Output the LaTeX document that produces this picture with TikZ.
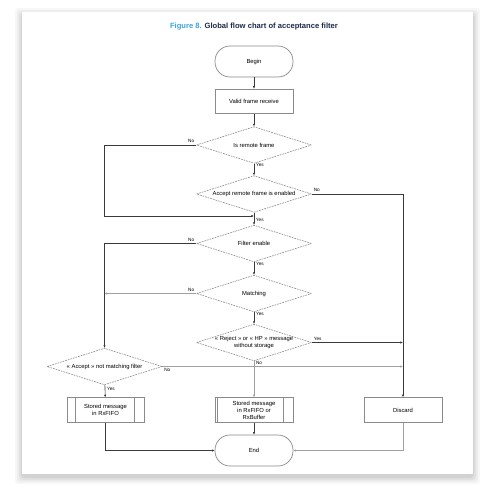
\documentclass[tikz,border=0pt]{standalone}
\usepackage{fontspec}
\setmainfont{Liberation Sans}
\usetikzlibrary{shapes.geometric, arrows.meta}

\definecolor{figblue}{HTML}{3BA3E0}
\definecolor{fignavy}{HTML}{1B2A4A}
\definecolor{edgegray}{HTML}{8A8A8A}
\definecolor{linedark}{HTML}{3A3A3A}
\definecolor{linelight}{HTML}{A0A0A0}

\begin{document}
\begin{tikzpicture}[
    x=0.03cm, y=-0.03cm,
    % Define node styles
    terminal/.style={draw=edgegray, line width=0.6pt, rectangle, rounded corners=0.45cm, minimum width=2.34cm, minimum height=0.93cm, font=\fontsize{5}{6}\selectfont},
    process/.style={draw=edgegray, line width=0.6pt, rectangle, minimum width=2.34cm, minimum height=0.74cm, align=center, inner sep=1pt, font=\fontsize{5}{6}\selectfont},
    decision/.style={draw=edgegray, line width=0.5pt, dash pattern=on 1.5pt off 0.8pt, diamond, aspect=3.2, inner sep=0pt, minimum width=3.45cm, minimum height=1.1cm, align=center, font=\fontsize{5}{6}\selectfont},
    % Define connector styles
    flow/.style={draw=linedark, line width=0.5pt, -{Latex[length=2.2pt, width=2pt]}},
    flowlight/.style={flow, draw=linelight},
    lbl/.style={font=\fontsize{4}{5}\selectfont, inner sep=1.5pt}
]

% Canvas, card and its shadow
\useasboundingbox (0,0) rectangle (490,497);
\fill[white] (0,0) rectangle (490,497);
\foreach \s/\o in {7/0.03, 5/0.04, 3/0.05, 1/0.06}
    \fill[black, opacity=\o, rounded corners=3pt] (22-\s,12-\s+3) rectangle (473+\s,474+\s+3);
\fill[white] (22,12) rectangle (473,474);

% Title
\node[font=\bfseries\fontsize{6.5}{8}\selectfont] (title) at (254,27)
    {\textcolor{figblue}{Figure 8.} \textcolor{fignavy}{Global flow chart of acceptance filter}};

% Main column
\node[terminal] (begin) at (254,61.5) {Begin};
\node[process] (valid) at (254,101.5) {Valid frame receive};
\node[decision] (remote) at (254,145) {Is remote frame};
\node[decision] (accrem) at (254,194) {Accept remote frame is enabled};
\coordinate (merge) at (254,216);
\node[decision] (filter) at (254,243.5) {Filter enable};
\node[decision] (match) at (254,293.5) {Matching};
\node[decision, inner xsep=-7pt, inner ysep=-1pt] (reject) at (254,342.5) {« Reject » or « HP » message\\without storage};

% Left branch
\node[decision] (accnm) at (104.5,366.5) {« Accept » not matching filter};
\node[process, minimum width=2.31cm] (storefifo) at (105.5,410) {Stored message\\in RxFIFO};

% Bottom row
\node[process, inner sep=0pt] (storebuf) at (254,410) {Stored message\\in RxFIFO or\\RxBuffer};
\node[process] (discard) at (403,410) {Discard};
\node[terminal] (stop) at (254,450.5) {End};

% Predefined process bars
\draw[edgegray, line width=0.6pt]
    ([xshift=0.27cm]storefifo.north west) -- ([xshift=0.27cm]storefifo.south west)
    ([xshift=-0.3cm]storefifo.north east) -- ([xshift=-0.3cm]storefifo.south east)
    ([xshift=0.07cm]storebuf.north west) -- ([xshift=0.07cm]storebuf.south west)
    ([xshift=-0.3cm]storebuf.north east) -- ([xshift=-0.3cm]storebuf.south east);

% Connectors, main column
\draw[flow] (begin) -- (valid);
\draw[flow] (valid) -- (remote);
\draw[flow] (remote) -- node[lbl, pos=0.15, right] {Yes} (accrem);
\draw[flow] (remote.west) node[lbl, above left] {No} -- (remote.west -| accnm.north) |- (merge);
\draw[flow] (accrem) -- (filter);
\node[lbl, below right] at (merge) {Yes};
\draw[flow] (accrem.east) node[lbl, above right] {No} -| (discard.north);
\draw[flow] (filter) -- node[lbl, pos=0.15, right] {Yes} (match);
\draw[flow] (filter.west) node[lbl, above left] {No} -| (accnm.north);
\draw[flow] (match) -- node[lbl, pos=0.15, right] {Yes} (reject);
\draw[flowlight] (match.west) node[lbl, above left] {No} -- (match.west -| accnm.north);
\draw[flow] (reject.east) node[lbl, above right] {Yes} -- (reject.east -| discard.north);
\draw[flowlight] (reject) -- node[lbl, pos=0.05, right] {No} (storebuf);

% Connectors, left branch and bottom
\draw[flowlight] (accnm.east) node[lbl, below right] {No} -- (accnm.east -| discard.north);
\draw[flow] (accnm) -- node[lbl, pos=0.3, right] {Yes} (storefifo);
\draw[flow] (storefifo.south) |- (stop.west);
\draw[flow] (storebuf) -- (stop);
\draw[flowlight] (discard.south) |- (stop.east);

\end{tikzpicture}
\end{document}
